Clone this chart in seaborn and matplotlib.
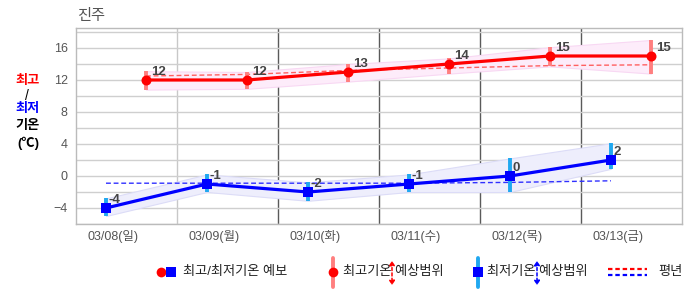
import matplotlib
matplotlib.use('Agg')
import matplotlib.pyplot as plt
import seaborn as sns
import numpy as np
import pandas as pd
from matplotlib.lines import Line2D
from matplotlib.patches import FancyArrowPatch
from matplotlib.ticker import MultipleLocator, FixedLocator

# ---------------- data ----------------
dates = ['03/08(일)', '03/09(월)', '03/10(화)', '03/11(수)', '03/12(목)', '03/13(금)']
tmax = [12, 12, 13, 14, 15, 15]
tmin = [-4, -1, -2, -1, 0, 2]
tmax_lo = [10.8, 10.9, 11.8, 12.8, 13.7, 12.8]
tmax_hi = [13.1, 13.0, 14.0, 14.7, 16.1, 17.0]
tmin_lo = [-5.0, -2.0, -3.1, -2.0, -2.0, 0.9]
tmin_hi = [-2.8, 0.2, -0.8, 0.2, 2.2, 4.1]
normal_max = [12.5, 12.7, 13.2, 13.5, 13.8, 13.9]
normal_min = [-0.9, -0.9, -0.9, -0.9, -0.8, -0.6]
yticks = [-4, 0, 4, 8, 12, 16]
title = '진주'
legend_labels = ['최고/최저기온 예보', '최고기온 예상범위', '최저기온 예상범위', '평년']

# ---------------- style ----------------
sns.set_style('white')
plt.rcParams['font.family'] = ['Liberation Sans', 'Noto Sans CJK KR', 'DejaVu Sans']
plt.rcParams['axes.unicode_minus'] = True

W, H = 686, 295
fig = plt.figure(figsize=(W / 100, H / 100), dpi=100)


def fp(x, y):
    return (x / W, 1 - y / H)


ax = fig.add_axes([76 / W, 1 - 224 / H, (682 - 76) / W, (224 - 28) / H])

idx = np.arange(len(dates))
xb = idx + 0.297   # position of min-temperature marks inside each day column
xr = idx + 0.693   # position of max-temperature marks inside each day column

RED = '#ff0000'
BLUE = '#0000ff'
SALMON = '#ff7f7f'
SKY = '#20a8f0'

# bands
ax.fill_between(xr, tmax_lo, tmax_hi, facecolor='#fdecfa', edgecolor='#f8d8f3', lw=0.8, zorder=1)
ax.fill_between(xb, tmin_lo, tmin_hi, facecolor='#eeeefc', edgecolor='#dcdcf7', lw=0.8, zorder=1)

# normals
ax.plot(xr, normal_max, color='#ff6060', lw=1.0, dashes=(3.5, 2), zorder=2)
ax.plot(xb, normal_min, color='#3030ff', lw=1.0, dashes=(3.5, 2), zorder=2)

# range bars
ax.vlines(xr, tmax_lo, tmax_hi, colors=SALMON, lw=2.8, zorder=3)
ax.vlines(xb, tmin_lo, tmin_hi, colors=SKY, lw=2.8, zorder=3)

# forecast lines
dfmax = pd.DataFrame({'x': xr, 'y': tmax})
dfmin = pd.DataFrame({'x': xb, 'y': tmin})
sns.lineplot(data=dfmax, x='x', y='y', ax=ax, color=RED, lw=2.3, marker='o',
             markersize=7.2, markeredgewidth=0, sort=False, zorder=4)
sns.lineplot(data=dfmin, x='x', y='y', ax=ax, color=BLUE, lw=2.3, marker='s',
             markersize=7.2, markeredgewidth=0, sort=False, zorder=4)

for x, v in zip(xr, tmax):
    ax.annotate(str(v), (x, v), xytext=(5, 5), textcoords='offset pixels',
                ha='left', va='baseline', fontsize=9.5, fontweight='bold', color='#444444', zorder=6)
for x, v in zip(xb, tmin):
    ax.annotate(str(v).replace('\u2212', '-'), (x, v), xytext=(3, 5), textcoords='offset pixels',
                ha='left', va='baseline', fontsize=9.5, fontweight='bold', color='#444444', zorder=6)

# axes
ax.set_xlim(0, len(dates))
ax.set_ylim(-6, 18.5)
ax.set_xlabel('')
ax.set_ylabel('')
ax.yaxis.set_major_locator(FixedLocator(yticks))
ax.yaxis.set_minor_locator(MultipleLocator(2))
ax.grid(axis='y', which='both', color='#cfcfcf', lw=1.0, zorder=0)
ax.set_axisbelow(True)
for i in range(1, len(dates)):
    ax.axvline(i, color='#c8c8c8' if i == 1 else '#5a5a5a', lw=1.0, zorder=0.5)

ax.set_xticks(idx + 0.366)
ax.set_xticklabels(dates)
ax.tick_params(axis='x', length=0, pad=4, labelsize=9, labelcolor='#555555')
ax.tick_params(axis='y', which='both', length=0, pad=6, labelsize=9, labelcolor='#555555')
for s in ax.spines.values():
    s.set_color('#bbbbbb')
    s.set_linewidth(1.0)

# title & y label
fig.text(*fp(77, 16), title, fontsize=11, color='#555555', ha='left', va='center')
fig.text(*fp(28, 81), '최고', fontsize=9.5, fontweight='bold', color=RED, ha='center', va='center')
fig.text(*fp(27, 95.5), '/', fontsize=10, color='#000000', ha='center', va='center')
fig.text(*fp(28, 109), '최저', fontsize=9.5, fontweight='bold', color=BLUE, ha='center', va='center')
fig.text(*fp(28, 126), '기온', fontsize=9.5, fontweight='bold', color='#000000', ha='center', va='center')
fig.text(*fp(28, 143), '(℃)', fontsize=9.5, fontweight='bold', color='#000000', ha='center', va='center')

# ---------------- legend (manual) ----------------
LY = 272


def fline(xs, ys, **kw):
    p = [fp(x, y) for x, y in zip(xs, ys)]
    fig.add_artist(Line2D([a for a, _ in p], [b for _, b in p], transform=fig.transFigure, **kw))


def farrow(x, y0, y1, color):
    fig.add_artist(FancyArrowPatch(fp(x, y0), fp(x, y1), transform=fig.transFigure,
                                   arrowstyle='<|-|>,head_length=2.5,head_width=1.6',
                                   color=color, lw=1.1, linestyle=(0, (2, 1.5))))


fline([161], [LY], marker='o', color=RED, markersize=7, markeredgewidth=0, lw=0)
fline([171], [LY], marker='s', color=BLUE, markersize=6.5, markeredgewidth=0, lw=0)
fig.text(*fp(183, LY), legend_labels[0], fontsize=9.5, color='#222222', ha='left', va='center')

fline([333, 333], [258, 287], color=SALMON, lw=2.8)
fline([333], [LY], marker='o', color=RED, markersize=7, markeredgewidth=0, lw=0)
farrow(392, 258, 288, RED)
fig.text(*fp(343, LY), legend_labels[1], fontsize=9.5, color='#222222', ha='left', va='center')

fline([478, 478], [258, 287], color=SKY, lw=2.8)
fline([478], [LY], marker='s', color=BLUE, markersize=6.5, markeredgewidth=0, lw=0)
farrow(537, 258, 288, BLUE)
fig.text(*fp(487, LY), legend_labels[2], fontsize=9.5, color='#222222', ha='left', va='center')

fline([608, 647], [269, 269], color=RED, lw=1.6, dashes=(2, 1.3))
fline([608, 647], [275, 275], color=BLUE, lw=1.6, dashes=(2, 1.3))
fig.text(*fp(658, LY), legend_labels[3], fontsize=9.5, color='#222222', ha='left', va='center')

fig.savefig('out.png', dpi=100)
